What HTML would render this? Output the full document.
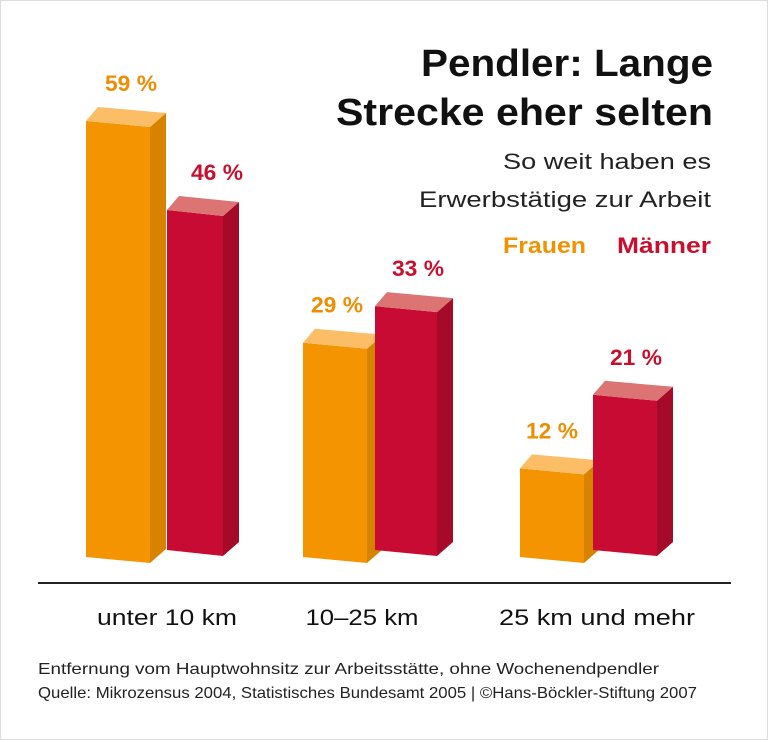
<!DOCTYPE html>
<html><head><meta charset="utf-8"><style>
body{margin:0;background:#fff;}
svg{display:block;font-family:"Liberation Sans",sans-serif;}
</style></head><body>
<svg id="c" width="768" height="740" viewBox="0 0 768 740">
<rect x="0.5" y="0.5" width="767" height="739" fill="#fff" stroke="#ddd"/>
<text x="421" y="76" textLength="292" lengthAdjust="spacingAndGlyphs" font-size="38" font-weight="bold" fill="#111">Pendler: Lange</text>
<text x="336" y="125" textLength="377" lengthAdjust="spacingAndGlyphs" font-size="38" font-weight="bold" fill="#111">Strecke eher selten</text>
<text x="503" y="169" textLength="208" lengthAdjust="spacingAndGlyphs" font-size="22" fill="#222">So weit haben es</text>
<text x="419" y="207" textLength="292" lengthAdjust="spacingAndGlyphs" font-size="22" fill="#222">Erwerbstätige zur Arbeit</text>
<text x="503" y="253" textLength="83" lengthAdjust="spacingAndGlyphs" font-size="22" font-weight="bold" fill="#f39200">Frauen</text>
<text x="617" y="253" textLength="94" lengthAdjust="spacingAndGlyphs" font-size="22" font-weight="bold" fill="#c8102e">Männer</text>
<g id="bars"></g>
<line x1="38" y1="583" x2="731" y2="583" stroke="#222" stroke-width="2"/>
<text x="38" y="674" textLength="621" lengthAdjust="spacingAndGlyphs" font-size="16" fill="#222">Entfernung vom Hauptwohnsitz zur Arbeitsstätte, ohne Wochenendpendler</text>
<text x="38" y="698" textLength="659" lengthAdjust="spacingAndGlyphs" font-size="16" fill="#222">Quelle: Mikrozensus 2004, Statistisches Bundesamt 2005 | ©Hans-Böckler-Stiftung 2007</text>
</svg>
<script>
const categories=["unter 10 km","10–25 km","25 km und mehr"];
const frauen=[59,29,12];
const maenner=[46,33,21];
// layout (not data)
const catWidths=[140,113,196];
const catCenters=[167,362,597];
const redShift=[81,72,73];
const redW=[56,62,64];
const fLabOff=[13,2,0];
const mLabOff=[22,12,11];
const NS="http://www.w3.org/2000/svg";
const g=document.getElementById("bars");
const scale=7.39, depth=16, rise=14;
function y(v,base){return base-v*scale;}
function mk(tag,attrs){const e=document.createElementNS(NS,tag);for(const k in attrs)e.setAttribute(k,attrs[k]);g.appendChild(e);return e;}
function bar(x,w,v,base,cols,name,color,off){
  const top=y(v,base), sk=6;
  const f=mk("polygon",{points:`${x},${top} ${x+w},${top+sk} ${x+w},${base+sk} ${x},${base}`,fill:cols[0]});
  
  
  const s=mk("polygon",{points:`${x+w},${top+sk} ${x+w+depth},${top+sk-rise} ${x+w+depth},${base+sk-rise} ${x+w},${base+sk}`,fill:cols[1]});
  
  
  const t=mk("polygon",{points:`${x},${top} ${x+depth-4},${top-rise} ${x+w+depth},${top+sk-rise} ${x+w},${top+sk}`,fill:cols[2]});
  
  
  const cx=x+w/2+off;
  const l=mk("text",{x:cx-26,y:top-30,textLength:"52",lengthAdjust:"spacingAndGlyphs","font-size":"22","font-weight":"bold",fill:color});
  l.textContent=v+" %";
  
  
}
categories.forEach((c,i)=>{
  const ox=86+i*217;
  bar(ox,64,frauen[i],557,["#f39400","#d88300","#fbbe66"],"bar-frauen-"+(i+1),"#f08c00",fLabOff[i]);
  bar(ox+redShift[i],redW[i],maenner[i],550,["#c80b33","#a50a29","#dd7474"],"bar-maenner-"+(i+1),"#c8102e",mLabOff[i]);
  const cw=catWidths[i];
  const t=mk("text",{x:catCenters[i]-cw/2,y:625,textLength:String(cw),lengthAdjust:"spacingAndGlyphs","font-size":"22",fill:"#111"});
  t.textContent=c;
  
  
});
</script>
</body></html>
